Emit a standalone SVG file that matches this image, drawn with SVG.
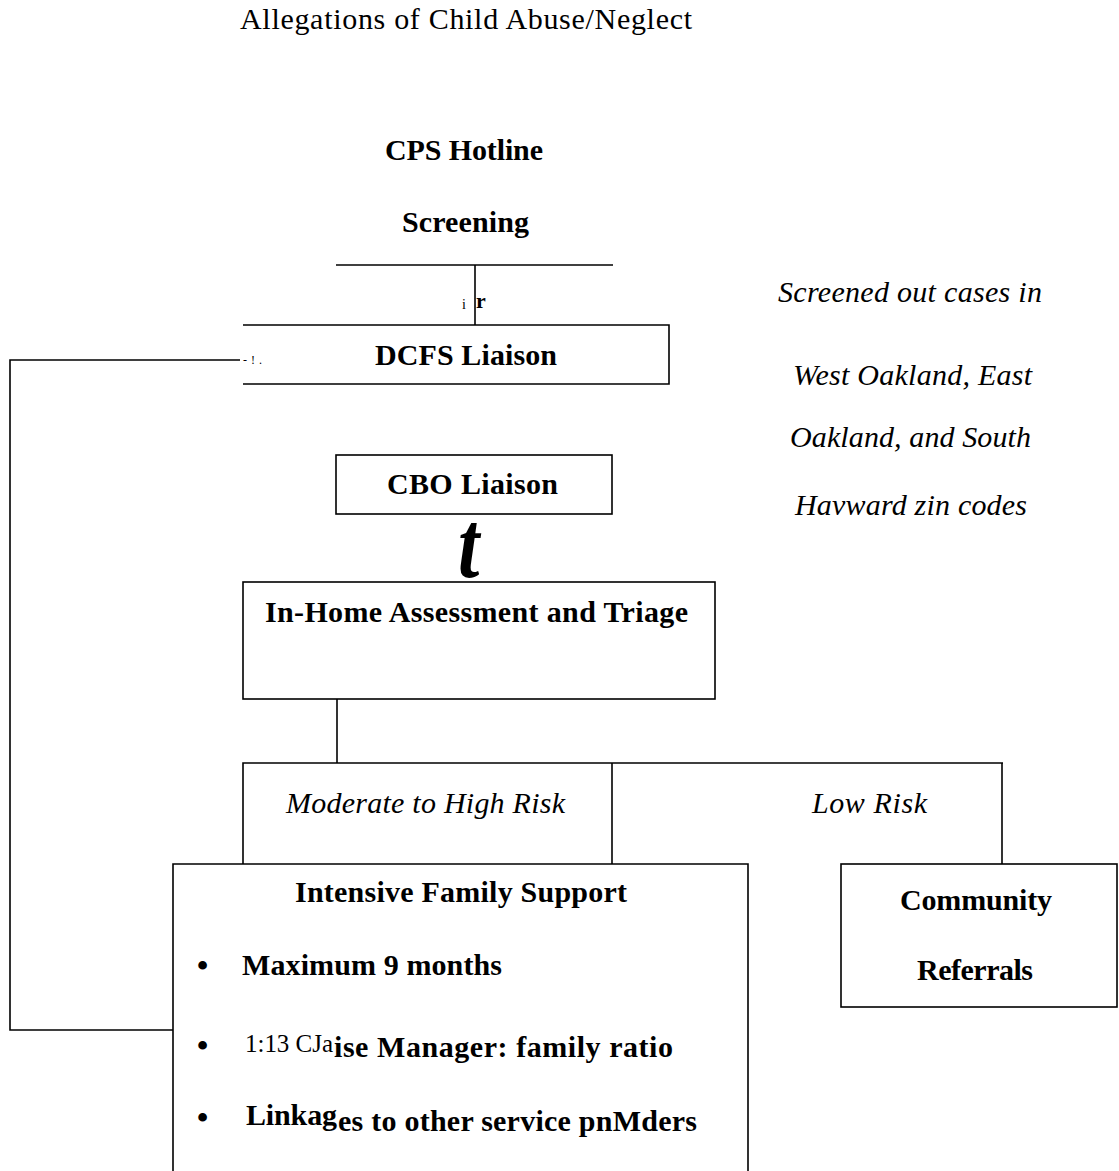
<svg xmlns="http://www.w3.org/2000/svg" width="1119" height="1171" viewBox="0 0 1119 1171">
<style>
  text { font-family: "Liberation Serif", "Times New Roman", serif; fill: #000; }
  .reg { font-size: 30px; }
  .b { font-size: 30px; font-weight: bold; }
  .it { font-size: 30px; font-style: italic; }
  .bul { font-size: 32px; font-weight: bold; }
  .box { fill: none; stroke: #000; stroke-width: 1.6; }
  .ln { fill: none; stroke: #000; stroke-width: 1.6; }
  .tiny { font-size: 12px; }
</style>
<rect x="0" y="0" width="1119" height="1171" fill="#fff"/>

<g id="connectors">
  <line class="ln" x1="336" y1="265" x2="613" y2="265"/>
  <line class="ln" x1="475" y1="265" x2="475" y2="325"/>
  <polyline class="ln" points="240,360 10,360 10,1030 173,1030"/>
  <line class="ln" x1="337" y1="699" x2="337" y2="763"/>
  <polyline class="ln" points="243,864 243,763 1003,763"/>
  <line class="ln" x1="612" y1="763" x2="612" y2="864"/>
  <line class="ln" x1="1002" y1="763" x2="1002" y2="864"/>
  <text x="462" y="309" style="font-size:14px">i</text>
  <text x="476" y="308" style="font-size:22px;font-weight:bold">r</text>
  <text x="243" y="364" class="tiny" textLength="19" lengthAdjust="spacing">- ! .</text>
  <text transform="translate(458,577) scale(0.8,1)" style="font-size:96px;font-weight:bold;font-style:italic">t</text>
</g>

<g id="title">
  <text class="reg" x="240" y="29" textLength="452" lengthAdjust="spacing">Allegations of Child Abuse/Neglect</text>
</g>

<g id="cps-hotline">
  <text class="b" x="385" y="160" textLength="158" lengthAdjust="spacing">CPS Hotline</text>
  <text class="b" x="402" y="232" textLength="127" lengthAdjust="spacing">Screening</text>
</g>

<g id="dcfs-liaison">
  <path class="box" d="M243,325 H669 V384 H243"/>
  <text class="b" x="375" y="365" textLength="182" lengthAdjust="spacing">DCFS Liaison</text>
</g>

<g id="screened-out-note">
  <text class="it" x="778" y="302" textLength="264" lengthAdjust="spacing">Screened out cases in</text>
  <text class="it" x="793" y="385" textLength="239" lengthAdjust="spacing">West Oakland, East</text>
  <text class="it" x="790" y="447" textLength="241" lengthAdjust="spacing">Oakland, and South</text>
  <text class="it" x="795" y="515" textLength="232" lengthAdjust="spacing">Havward zin codes</text>
</g>

<g id="cbo-liaison">
  <rect class="box" x="336" y="455" width="276" height="59"/>
  <text class="b" x="387" y="494" textLength="171" lengthAdjust="spacing">CBO Liaison</text>
</g>

<g id="in-home-assessment">
  <rect class="box" x="243" y="582" width="472" height="117"/>
  <text class="b" x="265" y="622" textLength="423" lengthAdjust="spacing">In-Home Assessment and Triage</text>
</g>

<g id="risk-labels">
  <text class="it" x="286" y="813" textLength="279" lengthAdjust="spacing">Moderate to High Risk</text>
  <text class="it" x="812" y="813" textLength="115" lengthAdjust="spacing">Low Risk</text>
</g>

<g id="intensive-family-support">
  <path class="box" d="M173,1180 V864 H748 V1180"/>
  <text class="b" x="295" y="902" textLength="332" lengthAdjust="spacing">Intensive Family Support</text>
  <text class="bul" x="197" y="976">•</text>
  <text class="b" x="242" y="975" textLength="260" lengthAdjust="spacing">Maximum 9 months</text>
  <text class="bul" x="197" y="1056">•</text>
  <text x="245" y="1052" style="font-size:25px" textLength="88" lengthAdjust="spacing">1:13 CJa</text>
  <text class="b" x="334" y="1057" textLength="339" lengthAdjust="spacing">ise Manager: family ratio</text>
  <text class="bul" x="197" y="1128">•</text>
  <text class="b" x="246" y="1125" textLength="91" lengthAdjust="spacing">Linkag</text>
  <text class="b" x="338" y="1131" textLength="359" lengthAdjust="spacing">es to other service pnMders</text>
</g>

<g id="community-referrals">
  <rect class="box" x="841" y="864" width="276" height="143"/>
  <text class="b" x="900" y="910" textLength="152" lengthAdjust="spacing">Community</text>
  <text class="b" x="917" y="980" textLength="116" lengthAdjust="spacing">Referrals</text>
</g>
</svg>
